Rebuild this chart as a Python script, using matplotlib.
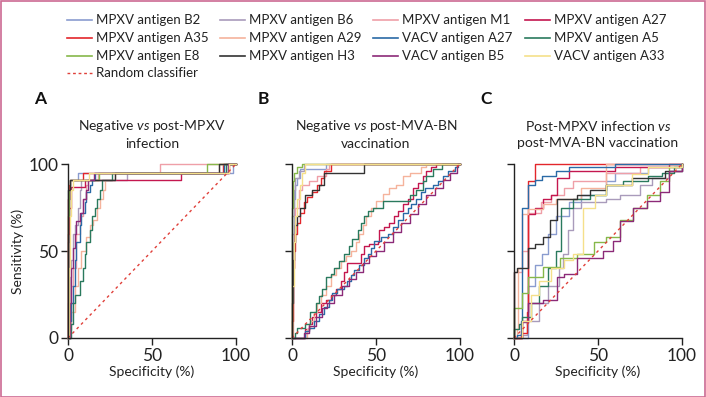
import matplotlib
matplotlib.use("Agg")
import matplotlib.pyplot as plt
from matplotlib.lines import Line2D
from matplotlib.patches import Rectangle

plt.rcParams['font.family'] = ['Lato', 'DejaVu Sans']
plt.rcParams['mathtext.fontset'] = 'custom'
plt.rcParams['mathtext.rm'] = 'Lato'
plt.rcParams['mathtext.it'] = 'Lato:italic'

# series names and colours (legend order, row by row)
names = ["MPXV antigen B2", "MPXV antigen B6", "MPXV antigen M1", "MPXV antigen A27",
         "MPXV antigen A35", "MPXV antigen A29", "VACV antigen A27", "MPXV antigen A5",
         "MPXV antigen E8", "MPXV antigen H3", "VACV antigen B5", "VACV antigen A33"]
colors = ["#8a9ccf", "#a99bbb", "#ef9fa8", "#c4174f",
          "#e3262b", "#f5b39c", "#2a6aa6", "#2a7a5e",
          "#86b84a", "#333333", "#8c2a78", "#f5e08a"]
random_color = "#e0403a"

panel_letters = ["A", "B", "C"]
panel_titles = ["Negative $\\mathit{vs}$ post-MPXV\ninfection",
                "Negative $\\mathit{vs}$ post-MVA-BN\nvaccination",
                "Post-MPXV infection $\\mathit{vs}$\npost-MVA-BN vaccination"]
ticks = [0, 50, 100]

# ROC points (100 - specificity, sensitivity): curve moves right, then jumps up to y at x
# Panel A: negative vs post-MPXV infection
a_b2 = [(0, 0), (0, 55), (0.5, 80), (1, 91), (6, 95), (98, 100), (100, 100)]
a_b6 = [(0, 0), (0, 20), (1, 35), (2, 45), (3, 60), (4, 65), (6, 75), (7, 85), (8, 91), (35, 95), (95, 100), (100, 100)]
a_m1 = [(0, 0), (1, 10), (2, 30), (3, 40), (5, 60), (7, 70), (9, 80), (11, 88), (12, 91), (18, 95), (55, 100), (100, 100)]
a_a27 = [(0, 0), (0, 60), (0.5, 75), (1.6, 87), (10, 91), (67, 95), (96, 100), (100, 100)]
a_a35 = [(0, 0), (0, 80), (0.5, 88), (1, 91), (8.7, 95), (92, 100), (100, 100)]
a_a29 = [(0, 0), (1, 5), (2, 15), (4, 30), (6, 40), (8, 50), (11, 58), (13, 65), (15, 68), (17, 75), (19, 80), (21, 85), (22, 91), (28, 95), (90, 100), (100, 100)]
a_vacv_a27 = [(0, 0), (1, 10), (2, 20), (3, 30), (4, 45), (5, 55), (7, 65), (8, 72), (10, 78), (11, 84), (13, 88), (14, 91), (16, 95), (93, 100), (100, 100)]
a_a5 = [(0, 0), (1, 0), (2, 8), (3, 20), (4, 25), (6, 25), (7, 33), (9, 40), (10, 48), (11, 55), (13, 62), (14, 70), (16, 75), (17, 80), (19, 85), (20, 91), (26, 95), (94, 100), (100, 100)]
a_e8 = [(0, 0), (0, 70), (0.5, 85), (1, 91), (18.7, 95), (83, 100), (100, 100)]
a_h3 = [(0, 0), (0, 85), (1, 91), (28, 95), (90, 100), (100, 100)]
a_vacv_b5 = [(0, 0), (1, 20), (2, 40), (3, 52), (4, 60), (5, 67), (7, 72), (9, 80), (11, 85), (12, 91), (15.7, 95), (95, 100), (100, 100)]
a_vacv_a33 = [(0, 0), (0.5, 40), (1, 70), (2, 85), (3, 91), (12.7, 95), (96, 100), (100, 100)]

# Panel B: negative vs post-MVA-BN vaccination
b_b2 = [(0, 0), (0, 60), (1, 80), (2, 88), (3, 92), (5, 97), (20, 100), (100, 100)]
b_b6 = [(0, 0), (0, 70), (1, 85), (2, 92), (4, 96), (7, 100), (100, 100)]
b_m1 = [(0, 0), (0.5, 40), (1, 60), (2, 75), (4, 85), (6, 88), (10, 90), (15, 93), (20, 97), (22, 100), (100, 100)]
b_a27 = [(0, 0), (5, 0), (8, 5), (10, 8), (12, 12), (14, 15), (17, 20), (20, 22), (23, 25), (26, 28), (29, 33), (31, 38), (33, 43), (39, 43), (41, 48), (43, 53), (46, 54), (51, 55), (52, 62), (55, 64), (58, 66), (61, 70), (63, 73), (66, 77), (69, 80), (72, 86), (75, 89), (78, 93), (80, 96), (83, 98), (86, 100), (100, 100)]
b_a35 = [(0, 0), (0, 10), (0.5, 40), (1, 50), (2, 60), (3, 66), (5, 72), (7, 78), (9, 81), (12, 84), (15, 88), (17, 92), (19, 96), (23, 100), (100, 100)]
b_a29 = [(0, 0), (8, 0), (9, 5), (11, 10), (13, 15), (15, 20), (17, 25), (20, 30), (23, 36), (26, 40), (29, 44), (32, 47), (35, 50), (38, 55), (40, 60), (42, 65), (44, 70), (47, 75), (50, 79), (54, 83), (58, 86), (62, 88), (66, 93), (70, 95), (77, 98), (80, 100), (100, 100)]
b_vacv_a27 = [(0, 0), (6, 0), (8, 4), (10, 6), (13, 10), (16, 14), (19, 18), (22, 22), (24, 26), (27, 28), (31, 30), (33, 33), (35, 36), (37, 39), (40, 42), (43, 46), (45, 48), (47, 52), (49, 56), (53, 58), (57, 60), (60, 64), (63, 68), (66, 72), (69, 75), (71, 77), (74, 80), (77, 84), (79, 86), (84, 88), (87, 90), (90, 93), (93, 96), (97, 98), (99, 100), (100, 100)]
b_a5 = [(0, 0), (1, 0), (2, 3), (3, 6), (8, 8), (11, 15), (14, 20), (16, 24), (18, 28), (20, 35), (23, 37), (25, 40), (28, 44), (31, 48), (34, 53), (36, 57), (39, 62), (41, 66), (43, 70), (45, 73), (48, 75), (54, 79), (67, 79), (70, 82), (74, 85), (78, 90), (80, 93), (84, 97), (89, 100), (100, 100)]
b_e8 = [(0, 0), (0, 75), (0.5, 90), (1, 95), (3, 98), (6, 100), (100, 100)]
b_h3 = [(0, 0), (0, 20), (0.5, 45), (1, 55), (2, 65), (3, 70), (5, 75), (8, 82), (12, 85), (16, 88), (19, 95), (43, 100), (100, 100)]
b_vacv_b5 = [(0, 0), (4, 0), (7, 3), (10, 7), (14, 12), (18, 17), (21, 20), (25, 25), (30, 30), (34, 34), (38, 38), (42, 43), (46, 47), (50, 50), (55, 55), (60, 61), (65, 66), (70, 71), (75, 77), (80, 82), (85, 86), (90, 91), (94, 95), (98, 100), (100, 100)]
b_vacv_a33 = [(0, 0), (0, 30), (1, 55), (2, 70), (3, 80), (5, 88), (6, 95), (8, 100), (100, 100)]

# Panel C: post-MPXV infection vs post-MVA-BN vaccination
c_b2 = [(0, 0), (8.6, 0), (8.6, 30), (12.5, 42), (16.5, 48), (20, 60), (25, 70), (33, 78), (40, 82), (55, 90), (60, 95), (80, 98), (100, 100)]
c_b6 = [(0, 0), (5, 2), (8, 10), (15, 20), (20, 30), (27, 40), (29.4, 48), (32, 62), (35, 75), (40, 78), (55, 80), (63, 82), (75, 88), (82, 92), (92, 96), (100, 100)]
c_m1 = [(0, 0), (0, 38), (4.6, 50), (8.6, 72), (16, 78), (22, 82), (30, 86), (35, 90), (55, 95), (75, 98), (100, 100)]
c_a27 = [(0, 0), (5, 10), (8.6, 71), (12.5, 75), (17.5, 80), (22, 82), (25.4, 92), (33, 96), (60, 98), (92, 100), (100, 100)]
c_a35 = [(0, 0), (4, 3), (8, 15), (8.6, 90), (12.5, 100), (100, 100)]
c_a29 = [(0, 0), (2, 5), (2.6, 40), (4.6, 71), (8.6, 74), (17, 77), (25, 80), (40, 86), (55, 100), (100, 100)]
c_vacv_a27 = [(0, 0), (2, 2), (4, 10), (4.6, 75), (8.6, 88), (12.5, 91), (16.5, 93), (25, 96), (33, 98), (60, 100), (100, 100)]
c_a5 = [(0, 0), (0, 5), (3, 8), (5, 12), (10, 20), (15, 30), (20, 40), (25, 50), (28, 75), (35, 80), (45, 82), (55, 88), (65, 90), (80, 93), (88, 95), (95, 98), (100, 100)]
c_e8 = [(0, 0), (0, 17), (4.6, 26), (8.6, 35), (17.5, 41), (27.5, 46), (37.4, 48), (47.5, 55), (55, 58), (63, 68), (71, 75), (79, 82), (87, 90), (92, 98), (100, 100)]
c_h3 = [(0, 0), (0, 38), (2, 40), (8.6, 52), (12.5, 54), (17.5, 58), (21.5, 68), (25.4, 80), (37.6, 82), (45, 85), (55, 88), (70, 92), (90, 96), (100, 100)]
c_vacv_b5 = [(0, 0), (4.6, 9), (8.6, 20), (17, 22), (25.5, 35), (30, 37), (37.4, 46), (47.5, 46), (53, 50), (59, 56), (63, 67), (71, 75), (79, 79), (87, 84), (92, 96), (100, 100)]
c_vacv_a33 = [(0, 0), (5, 10), (10, 25), (15, 33), (22, 40), (30, 45), (35, 48), (41, 56), (41, 75), (48, 82), (55, 88), (70, 94), (80, 98), (100, 100)]

panel_a = [a_b2, a_b6, a_m1, a_a27, a_a35, a_a29, a_vacv_a27, a_a5, a_e8, a_h3, a_vacv_b5, a_vacv_a33]
panel_b = [b_b2, b_b6, b_m1, b_a27, b_a35, b_a29, b_vacv_a27, b_a5, b_e8, b_h3, b_vacv_b5, b_vacv_a33]
panel_c = [c_b2, c_b6, c_m1, c_a27, c_a35, c_a29, c_vacv_a27, c_a5, c_e8, c_h3, c_vacv_b5, c_vacv_a33]
panels = [panel_a, panel_b, panel_c]

W, H = 706, 397
fig = plt.figure(figsize=(W / 100, H / 100), dpi=100)
fig.patch.set_facecolor("white")
fig.add_artist(Rectangle((0.5 / W, 0.5 / H), 1 - 1.5 / W, 1 - 1.5 / H, transform=fig.transFigure,
                         fill=False, edgecolor="#cc6a92", linewidth=1.2))

# legend drawn by hand, row by row
col_x = [67, 220, 373, 525]
row_y = [20, 38, 56, 73]
entries = [(n, c, "-") for n, c in zip(names, colors)] + [("Random classifier", random_color, ":")]
for i, (label, col, ls) in enumerate(entries):
    r, c = divmod(i, 4)
    x0, y0 = col_x[c], row_y[r]
    if ls == ":":
        fig.add_artist(Line2D([x0 / W, (x0 + 25) / W], [1 - y0 / H] * 2, transform=fig.transFigure,
                              color=col, lw=1.0, linestyle=(0, (2, 2))))
    else:
        fig.add_artist(Line2D([x0 / W, (x0 + 25) / W], [1 - y0 / H] * 2, transform=fig.transFigure,
                              color=col, lw=1.2))
    fig.text((x0 + 29) / W, 1 - y0 / H, label, fontsize=9.5, va="center", ha="left", color="#222222")

ax_left = [68, 292, 514]
ax_w = 168
ax_top, ax_bot = 164, 338

for k, (curves, letter, title) in enumerate(zip(panels, panel_letters, panel_titles)):
    ax = fig.add_axes([ax_left[k] / W, 1 - ax_bot / H, ax_w / W, (ax_bot - ax_top) / H])
    ax.set_xlim(0, 100)
    ax.set_ylim(0, 100)
    for pts, col in zip(curves, colors):
        xs = [p[0] for p in pts]
        ys = [p[1] for p in pts]
        ax.plot(xs, ys, drawstyle="steps-post", color=col, lw=1.0, clip_on=False)
    ax.plot([0, 100], [0, 100], color=random_color, lw=1.0, linestyle=(0, (2, 2.5)), clip_on=False)
    for s in ["top", "right"]:
        ax.spines[s].set_visible(False)
    for s in ["left", "bottom"]:
        ax.spines[s].set_linewidth(1.0)
        ax.spines[s].set_color("#222222")
    ax.set_xticks(ticks)
    ax.set_yticks(ticks)
    ax.tick_params(length=5, width=1.0, colors="#222222", labelsize=12.5, pad=2)
    if k > 0:
        ax.set_yticklabels([])
    else:
        ax.set_ylabel("Sensitivity (%)", fontsize=10, labelpad=3, color="#222222")
    ax.set_xlabel("Specificity (%)", fontsize=10, labelpad=1, color="#222222")
    cx = (ax_left[k] + ax_w / 2) / W
    fig.text(cx, 1 - 134 / H, title, fontsize=10, ha="center", va="center",
             linespacing=1.45, color="#222222")
    fig.text((ax_left[k] - 34) / W, 1 - 99 / H, letter, fontsize=12.5, fontweight="bold",
             ha="left", va="center", color="#111111")

fig.savefig("out.png", dpi=100)
